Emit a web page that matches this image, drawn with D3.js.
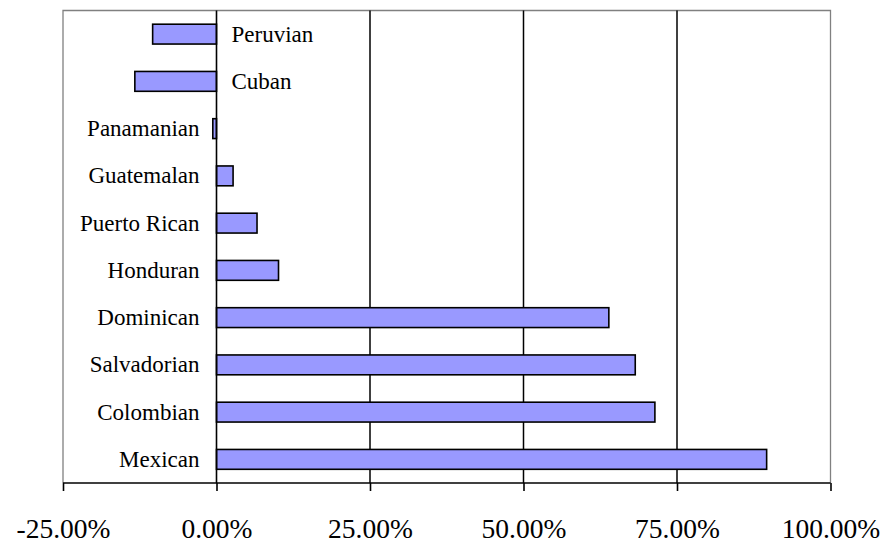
<!DOCTYPE html>
<html>
<head>
<meta charset="utf-8">
<script src="https://cdn.jsdelivr.net/npm/d3@7"></script>
<style>
  html, body { margin: 0; padding: 0; background: #fff; }
  svg { display: block; }
</style>
</head>
<body>
<svg id="chart" width="885" height="542"></svg>
<script>
const categories = ["Peruvian", "Cuban", "Panamanian", "Guatemalan", "Puerto Rican", "Honduran", "Dominican", "Salvadorian", "Colombian", "Mexican"];
const values = [-0.104, -0.133, -0.006, 0.027, 0.066, 0.101, 0.639, 0.682, 0.714, 0.896];
const tickValues = [-0.25, 0, 0.25, 0.5, 0.75, 1.0];
const gridValues = [0.25, 0.5, 0.75];

(function () {
const svg = d3.select("#chart");
const pl = 63, pr = 830.5, pt = 10.5, pb = 483;

const x = d3.scaleLinear().domain([-0.25, 1.0]).range([pl, pr]);
const y = d3.scaleBand().domain(categories).range([pt, pb]).paddingInner(0.58).paddingOuter(0.29);

const font = "'Liberation Serif', 'Times New Roman', serif";
const pct = d3.format(".2%");

// frame (gray) left, top, right
svg.append("path")
  .attr("d", `M${pl},${pb}V${pt}H${pr}V${pb}`)
  .attr("fill", "none").attr("stroke", "#808080").attr("stroke-width", 1.3);

// gridlines
svg.selectAll("line.grid").data(gridValues).join("line")
  .attr("class", "grid")
  .attr("x1", d => x(d)).attr("x2", d => x(d))
  .attr("y1", pt).attr("y2", pb)
  .attr("stroke", "#000").attr("stroke-width", 1.5);

// bars
svg.selectAll("rect.bar").data(categories).join("rect")
  .attr("class", "bar")
  .attr("x", (d, i) => x(Math.min(0, values[i])))
  .attr("width", (d, i) => Math.abs(x(values[i]) - x(0)))
  .attr("y", d => y(d))
  .attr("height", y.bandwidth())
  .attr("fill", "#9999FF").attr("stroke", "#000").attr("stroke-width", 1.6);

// zero (category) axis line
svg.append("line")
  .attr("x1", x(0)).attr("x2", x(0)).attr("y1", pt).attr("y2", pb)
  .attr("stroke", "#000").attr("stroke-width", 1.6);

// category labels
svg.selectAll("text.cat").data(categories).join("text")
  .attr("class", "cat")
  .attr("x", (d, i) => values[i] < -0.02 ? x(0) + 15 : x(0) - 17)
  .attr("y", d => y(d) + y.bandwidth() / 2)
  .attr("dy", "0.33em")
  .attr("text-anchor", (d, i) => values[i] < -0.02 ? "start" : "end")
  .attr("font-family", font).attr("font-size", 23)
  .attr("fill", "#000")
  .text(d => d);

// value axis
const axis = d3.axisBottom(x).tickValues(tickValues).tickSize(8)
  .tickFormat(d => pct(d).replace("\u2212", "-"));
const ag = svg.append("g").attr("transform", `translate(0,${pb})`).call(axis);
ag.select(".domain").attr("d", `M${pl},0H${pr}`).attr("stroke", "#000").attr("stroke-width", 1.6);
ag.selectAll(".tick line").attr("stroke", "#000").attr("stroke-width", 1.6);
ag.selectAll(".tick text")
  .attr("y", 54.5).attr("dy", "0")
  .attr("font-family", font).attr("font-size", 27.5).attr("fill", "#000");
})();
</script>
</body>
</html>
